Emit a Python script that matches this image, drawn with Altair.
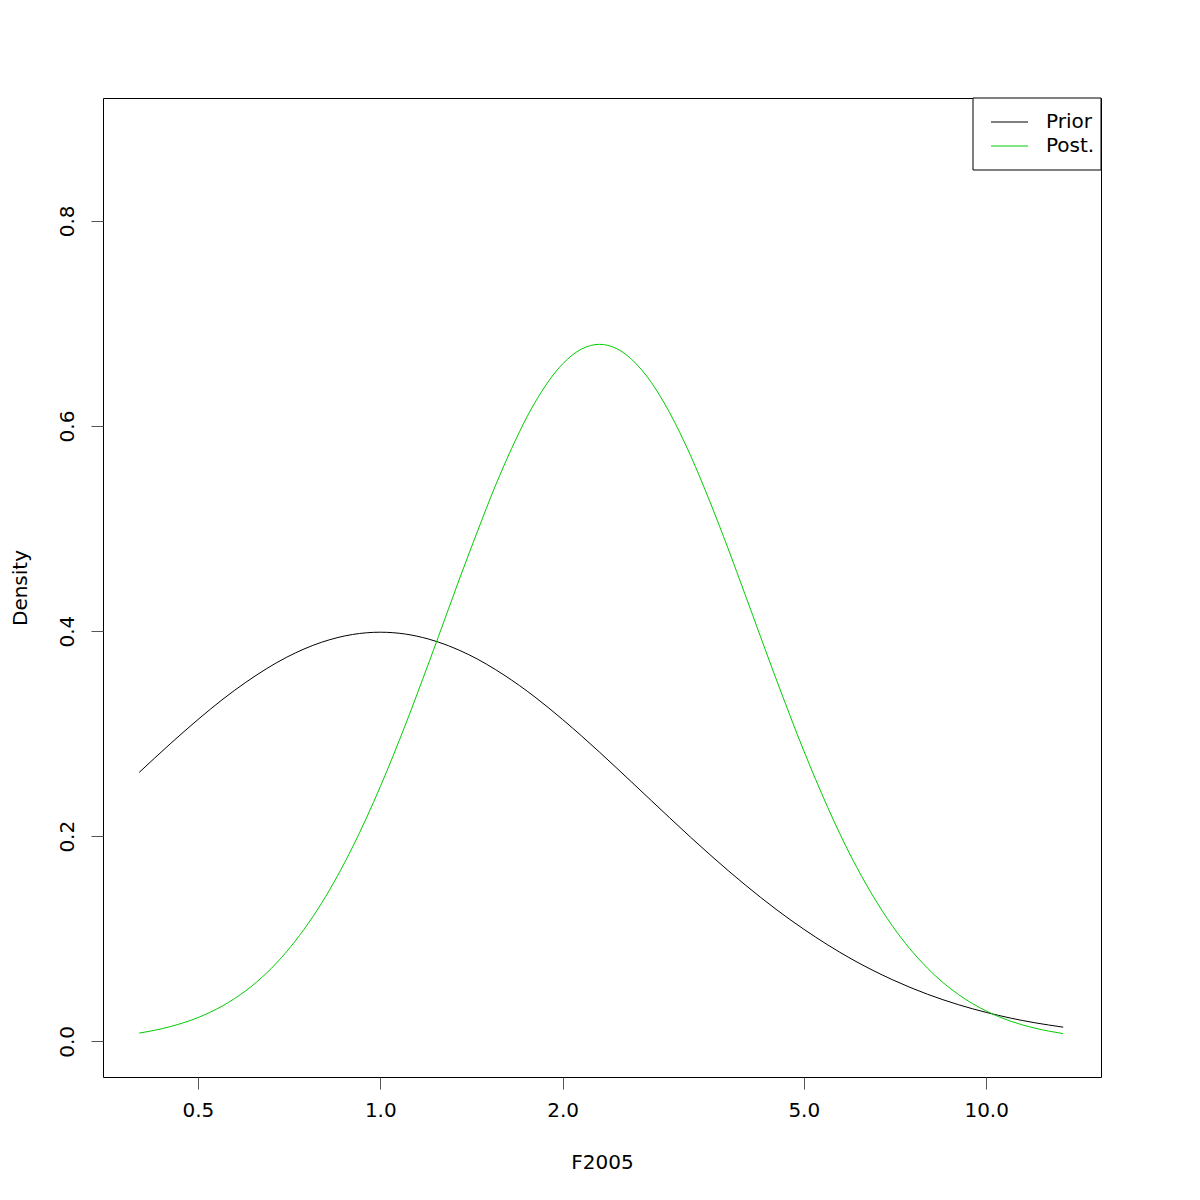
import altair as alt
import pandas as pd

# Values
f2005 = [0.40, 0.45, 0.5, 0.55, 0.6, 0.7, 0.8, 0.9, 1.0, 1.1, 1.2, 1.4, 1.6, 1.8,
         2.0, 2.15, 2.3, 2.45, 2.6, 2.8, 3.0, 3.25, 3.5, 3.75, 4.0, 4.5, 5.0, 6.0,
         7.0, 8.0, 9.0, 10.0, 11.0, 12.0, 13.4]
prior = [0.2622, 0.2900, 0.3137, 0.3337, 0.3501, 0.3744, 0.3891, 0.3967, 0.3989,
         0.3971, 0.3923, 0.3770, 0.3572, 0.3357, 0.3137, 0.2976, 0.2820, 0.2670,
         0.2527, 0.2348, 0.2182, 0.1991, 0.1820, 0.1665, 0.1526, 0.1287, 0.1093,
         0.0801, 0.0601, 0.0459, 0.0357, 0.0282, 0.0225, 0.0182, 0.0138]
post = [0.0080, 0.0143, 0.0231, 0.0348, 0.0494, 0.0872, 0.1347, 0.1894, 0.2483,
        0.3085, 0.3677, 0.4752, 0.5614, 0.6229, 0.6606, 0.6751, 0.6796, 0.6757,
        0.6649, 0.6426, 0.6134, 0.5714, 0.5261, 0.4805, 0.4357, 0.3535, 0.2833,
        0.1789, 0.1126, 0.0713, 0.0456, 0.0296, 0.0194, 0.0130, 0.0075]

series_names = ["Prior", "Post."]
series_colors = ["black", "#00CD00"]
x_ticks = [0.5, 1.0, 2.0, 5.0, 10.0]
y_ticks = [0.0, 0.2, 0.4, 0.6, 0.8]

df = pd.DataFrame({
    "x": f2005 * 2,
    "y": prior + post,
    "series": [series_names[0]] * len(f2005) + [series_names[1]] * len(f2005),
    "order": list(range(len(f2005))) * 2,
})

FONT = "DejaVu Sans"
FS = 20
W, H = 998, 979

lines = alt.Chart(df).mark_line(strokeWidth=1, interpolate="monotone").encode(
    x=alt.X("x:Q",
            scale=alt.Scale(type="log", domain=[0.3486, 15.47], nice=False, zero=False),
            axis=alt.Axis(values=x_ticks, format=".1f", title="F2005",
                          domain=False, grid=False, tickSize=12, tickColor="#555555",
                          labelPadding=21, labelBaseline="middle", labelFontSize=FS,
                          labelFont=FONT, labelColor="black", labelFlush=False,
                          titleFont=FONT, titleFontSize=FS, titleFontWeight="normal",
                          titleColor="black", titleX=W / 2, titleY=85,
                          titleBaseline="middle", titleAlign="center")),
    y=alt.Y("y:Q",
            scale=alt.Scale(domain=[-0.0348, 0.9198], nice=False, zero=False),
            axis=alt.Axis(values=y_ticks, format=".1f", title="Density",
                          domain=False, grid=False, tickSize=12, tickColor="#555555",
                          labelAngle=270, labelAlign="center", labelBaseline="middle",
                          labelPadding=24, labelFontSize=FS, labelFont=FONT,
                          labelColor="black", labelFlush=False,
                          titleFont=FONT, titleFontSize=FS, titleFontWeight="normal",
                          titleColor="black", titleAngle=270, titleX=-83, titleY=H / 2,
                          titleBaseline="middle", titleAlign="center")),
    color=alt.Color("series:N", scale=alt.Scale(domain=series_names, range=series_colors),
                    legend=None),
    order="order:Q",
)

legend_df = pd.DataFrame({"series": series_names, "row": [0, 1]})
row_scale = alt.Scale(domain=[0, 1], range=[24, 48], zero=False, nice=False)

legend_box = alt.Chart(legend_df).mark_rect(fill="white", stroke="black", strokeWidth=1).encode(
    x=alt.value(870), x2=alt.value(998), y=alt.value(0), y2=alt.value(72)
).transform_filter("datum.row == 0")

legend_lines = alt.Chart(legend_df).mark_rule(strokeWidth=1).encode(
    x=alt.value(888), x2=alt.value(925),
    y=alt.Y("row:Q", scale=row_scale, axis=None),
    color=alt.Color("series:N", scale=alt.Scale(domain=series_names, range=series_colors),
                    legend=None),
)

legend_text = alt.Chart(legend_df).mark_text(
    align="left", baseline="middle", font=FONT, fontSize=FS, color="black"
).encode(
    x=alt.value(943),
    y=alt.Y("row:Q", scale=row_scale, axis=None),
    text="series:N",
)

chart = alt.layer(lines, legend_box, legend_lines, legend_text).resolve_scale(
    y="independent"
).properties(
    width=W, height=H,
    autosize=alt.AutoSizeParams(type="none"),
    padding={"left": 95, "top": 90, "right": 91, "bottom": 115},
    background="white",
).configure_view(stroke="black", strokeWidth=1)

chart.save("out.html", embed_options={"renderer": "svg", "actions": False})
